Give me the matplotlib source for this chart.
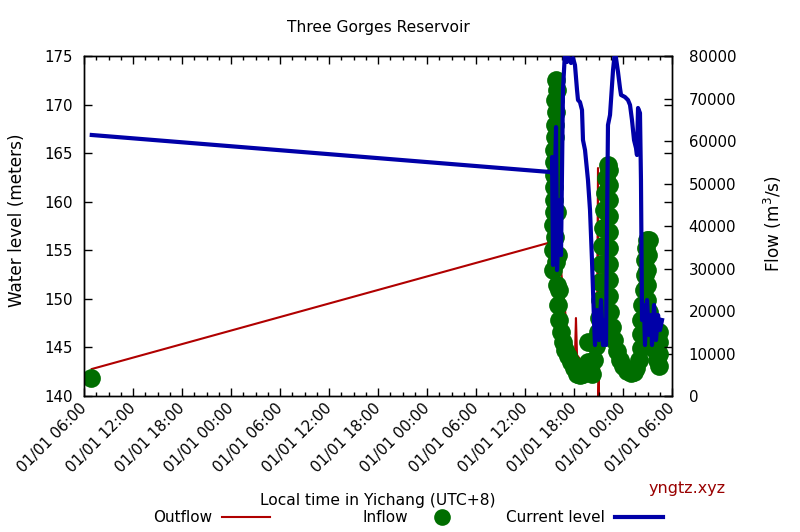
import matplotlib
matplotlib.use('Agg')
import matplotlib.pyplot as plt
from matplotlib.lines import Line2D

# ---------------- data ----------------
tick_hours = [0, 6, 12, 18, 24, 30, 36, 42, 48, 54, 60, 66, 72]
tick_labels = ['01/01 06:00', '01/01 12:00', '01/01 18:00', '01/01 00:00',
               '01/01 06:00', '01/01 12:00', '01/01 18:00', '01/01 00:00',
               '01/01 06:00', '01/01 12:00', '01/01 18:00', '01/01 00:00',
               '01/01 06:00']
level_ticks = [140, 145, 150, 155, 160, 165, 170, 175]
flow_ticks = [0, 10000, 20000, 30000, 40000, 50000, 60000, 70000, 80000]

level_hours = [0.95, 57.06, 57.43, 57.31, 57.43, 57.80, 57.92, 58.29, 58.41, 58.65,
               58.90, 59.14, 59.39, 59.63, 59.88, 60.12, 60.37, 60.49, 60.73, 60.98,
               61.10, 61.35, 61.71, 61.96, 62.20, 62.45, 62.57, 62.82, 63.06, 63.31,
               63.55, 63.80, 63.92, 64.04, 64.16, 64.41, 64.78, 65.02, 65.39, 65.63,
               65.76, 66.24, 66.61, 66.86, 67.10, 67.35, 67.59, 67.71, 67.84, 68.08,
               68.20, 68.33, 68.57, 68.69, 68.94, 69.18, 69.43, 69.55, 69.80, 70.04,
               70.29, 70.53, 70.78]
level_m = [166.87, 163.06, 163.06, 164.60, 153.49, 167.69, 152.97, 160.18, 154.51, 171.50,
           175.5, 174.38, 174.79, 174.28, 174.79, 174.07, 171.50, 170.47, 170.26, 169.44,
           166.35, 165.32, 162.24, 159.15, 154.00, 147.82, 145.25, 148.85, 145.76, 149.88,
           145.25, 147.82, 145.25, 157.09, 167.90, 168.93, 173.56, 175.5, 173.35, 171.71,
           170.99, 170.78, 170.47, 169.96, 168.41, 166.35, 165.53, 164.81, 169.65, 169.13,
           162.24, 147.82, 149.37, 145.25, 149.88, 146.28, 148.34, 145.25, 149.37, 145.76,
           148.34, 146.79, 147.82]

inflow_hours = [0.90,
                57.43, 57.43, 57.43, 57.55, 57.55, 57.55, 57.67, 57.67, 57.80,
                57.92, 57.80, 57.67, 57.55, 57.55, 57.55, 57.67, 57.80, 57.92, 58.04,
                58.16, 58.41, 58.65, 58.90, 59.26, 59.63, 60.00, 60.37, 60.73, 61.10,
                61.47, 61.71, 61.96, 62.20, 62.45, 62.69, 62.94, 63.06, 63.18, 63.18,
                63.31, 63.43, 63.55, 63.67, 63.80, 63.92, 64.16, 64.29, 64.29, 64.29,
                64.29, 64.29, 64.29, 64.29, 64.29, 64.29, 64.41, 64.65, 64.90, 65.27,
                65.63, 66.00, 66.49, 66.98, 67.35, 67.59, 67.96, 68.20, 68.20, 68.20,
                68.33, 68.57, 68.69, 68.69, 68.82, 68.94, 69.18, 69.06, 68.94, 68.94,
                68.94, 69.18, 69.43, 69.67, 69.92, 70.16, 70.41, 70.41, 70.41, 70.41,
                57.92, 58.04, 58.16, 61.71, 62.45]
inflow_flow = [4235,
               29647, 34353, 40235, 46118, 52000, 57882, 63764, 69647, 74352,
               72000, 66824, 60941, 55059, 49176, 43294, 37412, 31529, 26118, 21412,
               17882, 15059, 12706, 10824, 9412, 8000, 6588, 5176, 4941, 5176,
               7059, 12706, 7059, 5176, 8471, 11765, 15059, 18353, 22588, 26824,
               31059, 35294, 39529, 43765, 47765, 51294, 54353, 53176, 49647, 46118,
               42353, 38588, 34824, 31059, 27294, 23529, 19765, 16235, 13176, 10588,
               8471, 7059, 5882, 5412, 5647, 6588, 8471, 11294, 14588, 17882,
               21412, 24941, 28471, 32000, 34824, 36706, 36706, 33176, 29647, 26118,
               22588, 19765, 16706, 13647, 10824, 8471, 7059, 9882, 12706, 15059,
               43294, 33176, 24941, 8000, 12941]

outflow_hours = [0.95, 56.82, 57.43, 57.80, 58.29, 58.78, 59.14, 60.12, 60.24, 60.37,
                 61.35, 62.20, 62.82, 62.94, 63.00, 63.06, 63.67, 64.29, 65.02, 65.88,
                 67.10, 68.08, 68.82, 69.55, 70.29]
outflow_flow = [6353, 36000, 39059, 46118, 32000, 22588, 15529, 9647, 18353, 9647,
                7059, 9412, 15529, 53647, 0, 5647, 34353, 24941, 13176, 8471,
                7059, 12000, 27294, 17882, 12000]

# ---------------- styles ----------------
RED = '#b00000'
GREEN = '#006e00'
BLUE = '#0000a8'
FS_TICK = 10.8
FS_TEXT = 11.2
FS_YLAB = 12.2
MS = 13.5

plt.rcParams['font.family'] = ['DejaVu Sans']

fig = plt.figure(figsize=(8.0, 5.32), dpi=100)
ax = fig.add_axes([0.105, 0.2556, 0.735, 0.6391])
ax2 = ax.twinx()

ax2.plot(outflow_hours, outflow_flow, color=RED, lw=1.5, zorder=1)
ax2.plot(inflow_hours, inflow_flow, linestyle='none', marker='o', ms=MS,
         mfc=GREEN, mec=GREEN, mew=0, zorder=2)
ax.plot(level_hours, level_m, color=BLUE, lw=3, zorder=3)

ax.set_zorder(ax2.get_zorder() + 1)
ax.patch.set_visible(False)

ax.set_xlim(0, 72)
ax.set_ylim(140, 175)
ax2.set_ylim(0, 80000)

ax.set_xticks(tick_hours)
ax.set_xticklabels(tick_labels, rotation=45, ha='right', va='center',
                   rotation_mode='anchor', fontsize=FS_TICK)
ax.set_xticks([h + d for h in tick_hours[:-1] for d in (1.5, 3.0, 4.5)], minor=True)
ax.set_yticks(level_ticks)
ax.set_yticklabels([str(v) for v in level_ticks], fontsize=FS_TICK)
ax2.set_yticks(flow_ticks)
ax2.set_yticklabels([str(v) for v in flow_ticks], fontsize=FS_TICK)

ax.tick_params(axis='x', which='both', direction='in', top=True, bottom=True, pad=7)
ax.tick_params(axis='x', which='major', length=6, width=1)
ax.tick_params(axis='x', which='minor', length=3, width=1)
ax.tick_params(axis='y', which='major', direction='in', left=True, right=True,
               length=6, width=1, pad=8)
ax2.tick_params(axis='y', which='major', direction='in', right=True, length=6,
                width=1, pad=12)

for a in (ax, ax2):
    for s in a.spines.values():
        s.set_linewidth(1.0)
        s.set_color('black')

fig.text(378 / 800, 1 - 28 / 532, 'Three Gorges Reservoir', ha='center', va='center',
         fontsize=FS_TEXT)
fig.text(17 / 800, 1 - 220 / 532, 'Water level (meters)', rotation=90,
         ha='center', va='center', fontsize=FS_YLAB)
fig.text(773 / 800, 1 - 224 / 532, 'Flow (m$^3$/s)', rotation=90,
         ha='center', va='center', fontsize=FS_YLAB)
fig.text(378 / 800, 1 - 500 / 532, 'Local time in Yichang (UTC+8)', ha='center',
         va='center', fontsize=FS_TEXT)
fig.text(687 / 800, 1 - 489 / 532, 'yngtz.xyz', ha='center', va='center',
         fontsize=11.5, color='#990000')

# legend below the plot (gnuplot style: text then sample)
ly = 1 - 517 / 532
entries = [('Outflow', 212, 'line', RED, 1.5),
           ('Inflow', 408, 'marker', GREEN, 0),
           ('Current level', 605, 'line', BLUE, 3)]
for label, xend, kind, col, lw in entries:
    fig.text(xend / 800, ly, label, ha='right', va='center', fontsize=11)
    x0 = (xend + 10) / 800
    x1 = (xend + 58) / 800
    if kind == 'line':
        fig.add_artist(Line2D([x0, x1], [ly, ly], color=col, lw=lw,
                              transform=fig.transFigure))
    else:
        fig.add_artist(Line2D([(x0 + x1) / 2], [ly], marker='o', ms=12, mfc=col,
                              mec=col, mew=0, linestyle='none',
                              transform=fig.transFigure))

fig.savefig('out.png', dpi=100)
